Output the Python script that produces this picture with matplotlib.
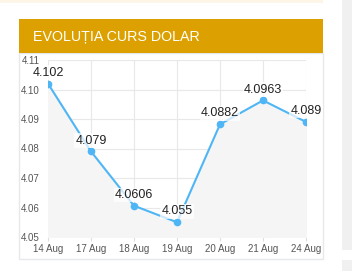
import matplotlib.pyplot as plt
from matplotlib.patches import Rectangle

# data
days = ['14 Aug', '17 Aug', '18 Aug', '19 Aug', '20 Aug', '21 Aug', '24 Aug']
rates = [4.102, 4.079, 4.0606, 4.055, 4.0882, 4.0963, 4.089]
rate_labels = ['4.102', '4.079', '4.0606', '4.055', '4.0882', '4.0963', '4.089']
yticks = [4.05, 4.06, 4.07, 4.08, 4.09, 4.10, 4.11]

W, H = 352, 271
fig = plt.figure(figsize=(W / 100, H / 100), dpi=100)
fig.patch.set_facecolor('white')

def px_rect(x0, y0, x1, y1, **kw):
    # rectangle in pixel coords (top-left origin)
    fig.patches.append(Rectangle((x0 / W, 1 - y1 / H), (x1 - x0) / W, (y1 - y0) / H,
                                 transform=fig.transFigure, figure=fig, zorder=-1, **kw))

# page decorations
px_rect(0, 0, 323, 3, facecolor='#fdf6e8', edgecolor='none')
px_rect(342, 0, 352, 250, facecolor='#f0f0f0', edgecolor='none')
px_rect(342, 260, 352, 271, facecolor='#f0f0f0', edgecolor='none')
px_rect(19, 53, 323, 259, facecolor='white', edgecolor='#e6e9ec', linewidth=1)
px_rect(19, 19, 323, 53, facecolor='#dca100', edgecolor='none')
fig.text(33 / W, 1 - 36.5 / H, 'EVOLUȚIA CURS DOLAR', color='white', fontsize=10.3,
         va='center', ha='left', family='Liberation Sans')

ax = fig.add_axes([48 / W, 1 - 237 / H, 258 / W, 177 / H])
ax.set_zorder(2)
ax.patch.set_alpha(0)
x = list(range(len(days)))
ax.fill_between(x, rates, 4.05, color='#f5f5f5', zorder=1)
ax.plot(x, rates, color='#4fb6f5', linewidth=1.5, marker='o', markersize=4.5, zorder=3)
for xi, yi, lab in zip(x, rates, rate_labels):
    ax.annotate(lab, (xi, yi), xytext=(0, 3.5), textcoords='offset points', ha='center',
                va='bottom', fontsize=9, color='#222222', family='Liberation Sans',
                bbox=dict(boxstyle='square,pad=0.1', facecolor='white', edgecolor='none', alpha=0.7),
                zorder=4)

ax.set_xlim(0, len(days) - 1)
ax.set_ylim(4.05, 4.11)
ax.set_xticks(x)
ax.set_xticklabels(days)
ax.set_yticks(yticks)
ax.set_yticklabels(['%.2f' % v for v in yticks])
ax.grid(True, color='#e8e8e8', linewidth=0.8, zorder=0)
ax.set_axisbelow(True)
for s in ax.spines.values():
    s.set_visible(False)
ax.tick_params(axis='x', colors='#dddddd', length=3, labelcolor='#555555', labelsize=7, pad=2)
ax.tick_params(axis='y', length=0, labelcolor='#555555', labelsize=7, pad=6)
for t in ax.get_xticklabels() + ax.get_yticklabels():
    t.set_family('Liberation Sans')

fig.savefig('out.png', dpi=100)
